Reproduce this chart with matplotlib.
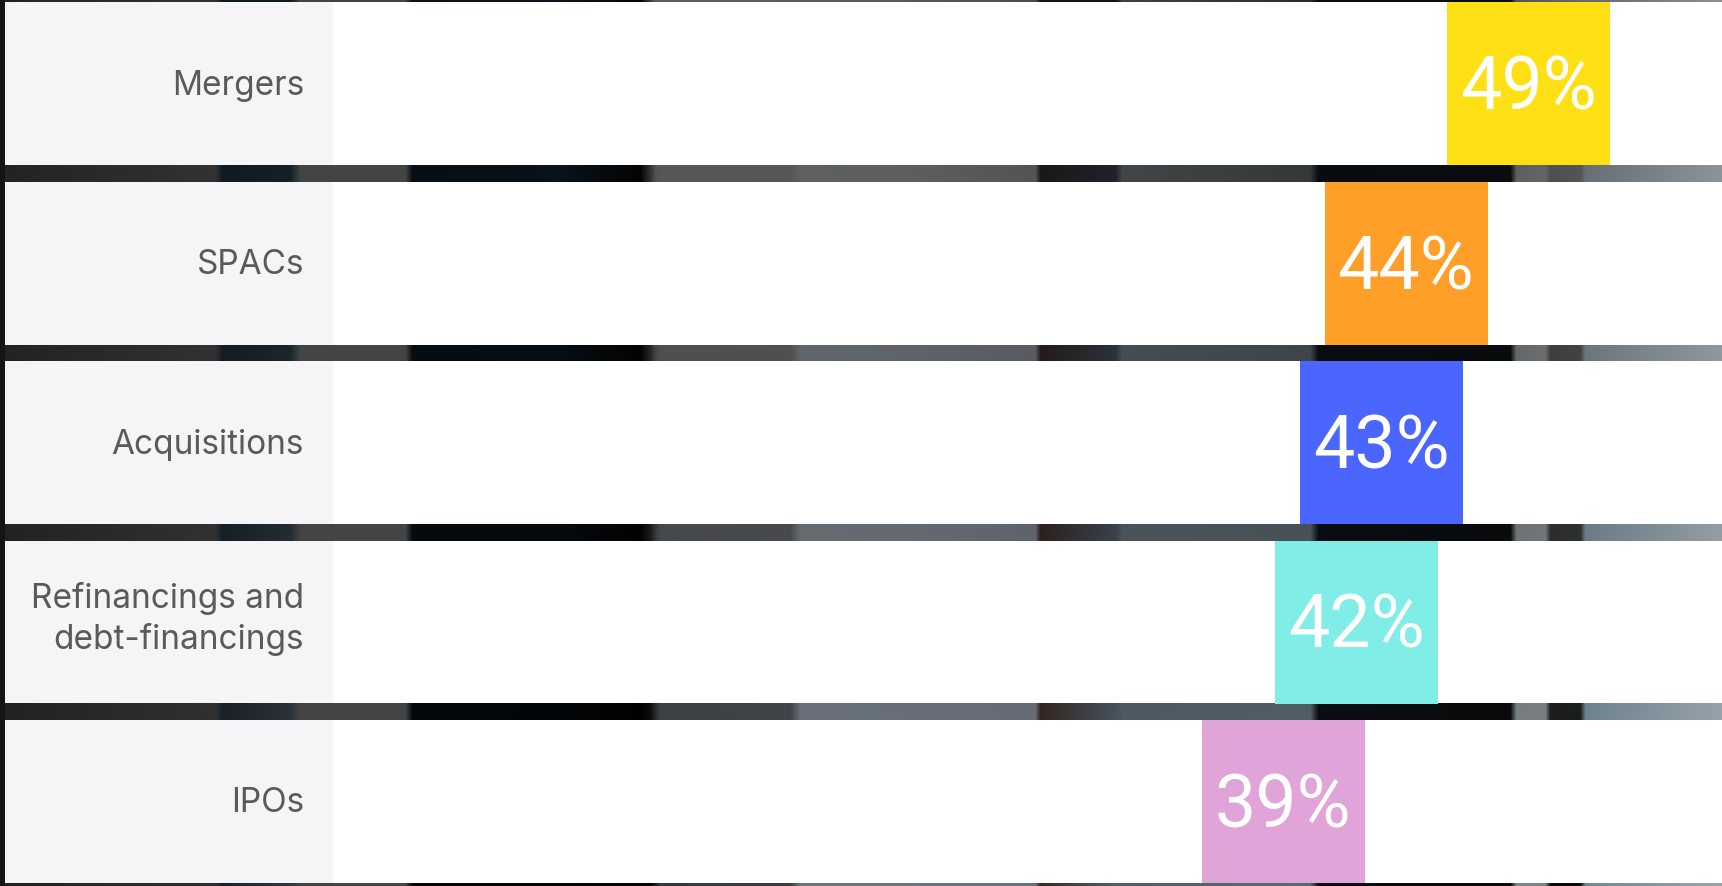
import numpy as np
import matplotlib.pyplot as plt
from matplotlib.colors import to_rgb

# data
categories = ['Mergers', 'SPACs', 'Acquisitions', 'Refinancings and\ndebt-financings', 'IPOs']
values = [49, 44, 43, 42, 39]
bar_colors = ['#FFE015', '#FF9F28', '#4A66FF', '#80EDE6', '#E0A4D8']

W, H = 1722, 886
fig = plt.figure(figsize=(W / 100, H / 100), dpi=100)
fig.patch.set_facecolor('#1e1e1e')

# blurred photo that shows through the gaps between rows
top_x = [0, 215, 222, 290, 300, 405, 412, 560, 640, 655, 900, 1035, 1040, 1115, 1122, 1310, 1318, 1510, 1516, 1722]
top_c = ['#232323', '#333333', '#0d1a20', '#0d1a20', '#444444', '#444444', '#0a1018', '#0c1520', '#050505',
         '#5e5e5e', '#5a5a5a', '#4c4c4c', '#15121a', '#15121a', '#404040', '#2c2c2c', '#080c10', '#0a0e12',
         '#555555', '#8a9094']
bot_x = [0, 215, 222, 290, 300, 405, 412, 650, 660, 790, 800, 1035, 1040, 1115, 1310, 1318, 1510, 1516,
         1545, 1550, 1580, 1585, 1722]
bot_c = ['#222222', '#303030', '#1c2228', '#303840', '#444444', '#444444', '#030709', '#000000', '#353a40',
         '#3a3e44', '#6a7680', '#6a7480', '#3a2a22', '#50606a', '#5a6a72', '#0b0f14', '#0a0a0a', '#7f868a',
         '#7f868a', '#0c0c0c', '#0c0c0c', '#6f8898', '#9aa6ae']


def profile(xs, cs):
    cols = np.array([to_rgb(c) for c in cs])
    px = np.arange(W)
    return np.stack([np.interp(px, xs, cols[:, k]) for k in range(3)], axis=1)


top_p = profile(top_x, top_c)
bot_p = profile(bot_x, bot_c)
t = np.linspace(0, 1, H)[:, None, None]
img = top_p[None, :, :] * (1 - t) + bot_p[None, :, :] * t
img[:, :5, :] = 0.08

bg = fig.add_axes([0, 0, 1, 1], zorder=0)
bg.imshow(img, extent=[0, W, H, 0], aspect='auto', interpolation='bilinear')
bg.set_xlim(0, W)
bg.set_ylim(H, 0)
bg.axis('off')

# main chart area (starts right of the thin dark strip)
left_px = 5
ax = fig.add_axes([left_px / W, 0, 1 - left_px / W, 1], zorder=1)
ax.patch.set_alpha(0)
px_per_pct = 24.6
zero_px = 323.6 - left_px
ax_w = W - left_px
ax.set_xlim(-zero_px / px_per_pct, (ax_w - zero_px) / px_per_pct)
row_px = 179.5
top_u = -83.5 / row_px
ax.set_ylim(top_u + H / row_px, top_u)
ax.axis('off')

band = 163 / row_px
panel_frac = (333 - left_px) / ax_w
label_frac = (304 - left_px) / ax_w
bar_w = 163 / px_per_pct

for i, (cat, v, c) in enumerate(zip(categories, values, bar_colors)):
    ax.axhspan(i - band / 2, i + band / 2, xmin=0, xmax=panel_frac, color='#F5F5F7', lw=0)
    ax.axhspan(i - band / 2, i + band / 2, xmin=panel_frac, xmax=1, color='white', lw=0)
    ax.barh(i, bar_w, left=v - bar_w / 2, height=band, color=c, lw=0, zorder=3)
    ax.text(v, i + 26 / row_px, f'{v}%', ha='center', va='baseline', color='white',
            fontsize=53, fontweight='normal', family='Roboto', zorder=4)
    if '\n' in cat:
        ax.text(label_frac, i - 3 / row_px, cat, transform=ax.get_yaxis_transform(), ha='right', va='center',
                color='#5a5a5e', fontsize=24, family='Inter', linespacing=1.3, zorder=4)
    else:
        ax.text(label_frac, i + 11 / row_px, cat, transform=ax.get_yaxis_transform(), ha='right',
                va='baseline', color='#5a5a5e', fontsize=24, family='Inter', zorder=4)

fig.savefig('out.png', dpi=100, facecolor=fig.get_facecolor())
